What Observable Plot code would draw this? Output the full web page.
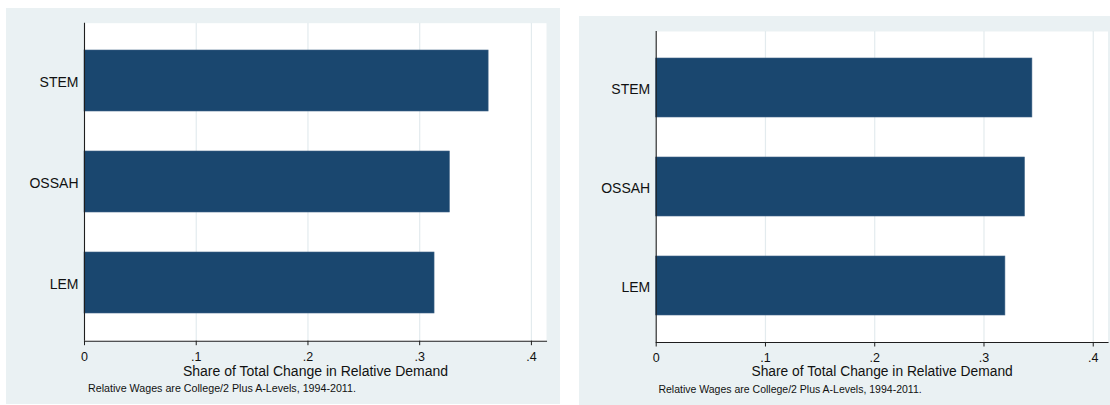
<!DOCTYPE html>
<html>
<head>
<meta charset="utf-8">
<script src="https://cdn.jsdelivr.net/npm/d3@7"></script>
<script src="https://cdn.jsdelivr.net/npm/@observablehq/plot@0.6"></script>
<style>
  html, body { margin: 0; padding: 0; background: #ffffff; }
  #wrap { position: relative; width: 1110px; height: 405px; overflow: hidden; background: #ffffff; }
  #wrap svg { position: absolute; }
</style>
</head>
<body>
<div id="wrap"></div>
<script>
// ---- data ----
const categories = ["STEM", "OSSAH", "LEM"];
const leftValues = [0.3617, 0.327, 0.3133];
const rightValues = [0.3443, 0.3375, 0.3196];
const xTicks = [0, 0.1, 0.2, 0.3, 0.4];
const xTickLabels = ["0", ".1", ".2", ".3", ".4"];
const xTitle = "Share of Total Change in Relative Demand";
const noteText = "Relative Wages are College/2 Plus A-Levels, 1994-2011.";

const FONT = "'Liberation Sans', Arial, Helvetica, sans-serif";
const BG = "#eaf1f3";
const NAVY = "#1a476f";
const GRID = "#e3ebee";
const AXIS = "#1e1e1e";

function panel(values, o) {
  const rows = categories.map((c, i) => ({category: c, value: values[i]}));
  const fmt = d => xTickLabels[xTicks.indexOf(d)];
  const svg = Plot.plot({
    width: o.width,
    height: o.height,
    marginLeft: o.ml,
    marginRight: o.mr,
    marginTop: o.mt,
    marginBottom: o.mb,
    style: {background: BG, fontFamily: FONT, color: AXIS, overflow: "visible"},
    x: {domain: [0, 0.4135], axis: null},
    y: {domain: categories, paddingInner: 0.4, paddingOuter: 0.26, axis: null},
    marks: [
      Plot.frame({fill: "white", stroke: null}),
      Plot.ruleX(xTicks.filter(d => d > 0), {stroke: GRID, strokeWidth: 1.2}),
      Plot.barX(rows, {y: "category", x: "value", fill: NAVY, stroke: "#3f6386", strokeWidth: 0.6}),
      Plot.ruleX([0], {stroke: AXIS, strokeWidth: 1.1}),
      Plot.frame({anchor: "bottom", stroke: AXIS, strokeWidth: 1.1}),
      Plot.axisX({ticks: xTicks, tickFormat: fmt, tickSize: 4.5, tickPadding: o.tp, fontSize: o.tickFont, label: null, stroke: AXIS, fill: "#111"}),
      Plot.axisY({tickSize: 0, tickPadding: 6, fontSize: o.labelFont, label: null, fill: "#111", dy: 1.5}),
      Plot.text([xTitle], {frameAnchor: "bottom", dy: o.titleDy, fontSize: o.titleFont, lineAnchor: "middle", textAnchor: "middle", fill: "#111"}),
      Plot.text([noteText], {frameAnchor: "bottom-left", dx: o.noteDx, dy: o.noteDy, fontSize: o.noteFont, lineAnchor: "middle", textAnchor: "start", fill: "#111"})
    ]
  });
  svg.style.left = o.left + "px";
  svg.style.top = o.top + "px";
  return svg;
}

const wrap = document.getElementById("wrap");
wrap.appendChild(panel(leftValues, {
  left: 6, top: 8, width: 554, height: 396,
  ml: 78, mr: 14, mt: 14.7, mb: 63.3,
  tp: 6.8, tickFont: 12.5, labelFont: 14, titleFont: 14, titleDy: 30.5, noteFont: 10.7, noteDx: 3.5, noteDy: 47.8
}));
wrap.appendChild(panel(rightValues, {
  left: 579, top: 15.7, width: 531, height: 389,
  ml: 76.7, mr: 2.5, mt: 15, mb: 63,
  tp: 6.2, tickFont: 12.5, labelFont: 14, titleFont: 13.8, titleDy: 29.3, noteFont: 10.5, noteDx: 2.2, noteDy: 47
}));
</script>
</body>
</html>
